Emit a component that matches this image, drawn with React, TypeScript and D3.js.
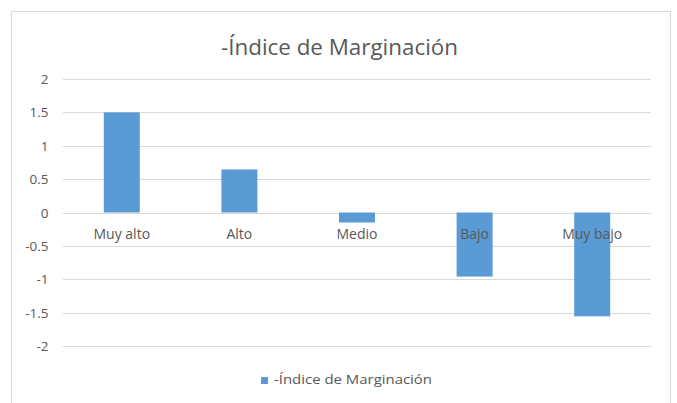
import React from "react";
import * as d3 from "d3";

const categories = ["Muy alto", "Alto", "Medio", "Bajo", "Muy bajo"];
const values = [1.5, 0.645, -0.15, -0.96, -1.555];
const yTicks = [2, 1.5, 1, 0.5, 0, -0.5, -1, -1.5, -2];
const title = "-Índice de Marginación";

export default function App() {
  const W = 677, H = 403;
  const left = 63, right = 651, zeroTop = 79, bottom = 346;
  const x = d3.scaleBand<string>().domain(categories).range([left, right]).padding(0);
  const y = d3.scaleLinear().domain([-2, 2]).range([bottom, zeroTop]);
  const barW = 36;
  const font = "'Open Sans', sans-serif";
  const txt = "#595959";
  return (
    <svg width={W} height={H} style={{ position: "absolute", left: 0, top: 0, background: "#fff" }}>
      <rect x={11.5} y={11.5} width={659} height={420} fill="#fff" stroke="#D9D9D9" strokeWidth={1} />
      <text x={339.5} y={55} textAnchor="middle" fontFamily={font} fontSize={22.5} fill={txt} textLength={237} lengthAdjust="spacingAndGlyphs">{title}</text>
      {yTicks.map((t) => (
        <g key={t}>
          <line x1={left} x2={right} y1={Math.round(y(t)) + 0.5} y2={Math.round(y(t)) + 0.5} stroke="#D9D9D9" strokeWidth={1} />
          <text x={48.5} y={y(t) + 5} textAnchor="end" fontFamily={font} fontSize={13.5} fill={txt}>{t}</text>
        </g>
      ))}
      {categories.map((c, i) => {
        const cx = (x(c) as number) + x.bandwidth() / 2;
        const v = values[i];
        const y0 = y(0), y1 = y(v);
        return (
          <rect key={c} x={cx - barW / 2} y={Math.min(y0, y1)} width={barW} height={Math.abs(y1 - y0)} fill="#5B9BD5" />
        );
      })}
      {categories.map((c) => {
        const cx = (x(c) as number) + x.bandwidth() / 2;
        return (
          <text key={c} x={cx} y={238.5} textAnchor="middle" fontFamily={font} fontSize={14} fill={txt}>{c}</text>
        );
      })}
      <rect x={261} y={377} width={7} height={7} fill="#5B9BD5" />
      <text x={274} y={384} fontFamily={font} fontSize={13} fill={txt} textLength={158} lengthAdjust="spacingAndGlyphs">{title}</text>
    </svg>
  );
}
